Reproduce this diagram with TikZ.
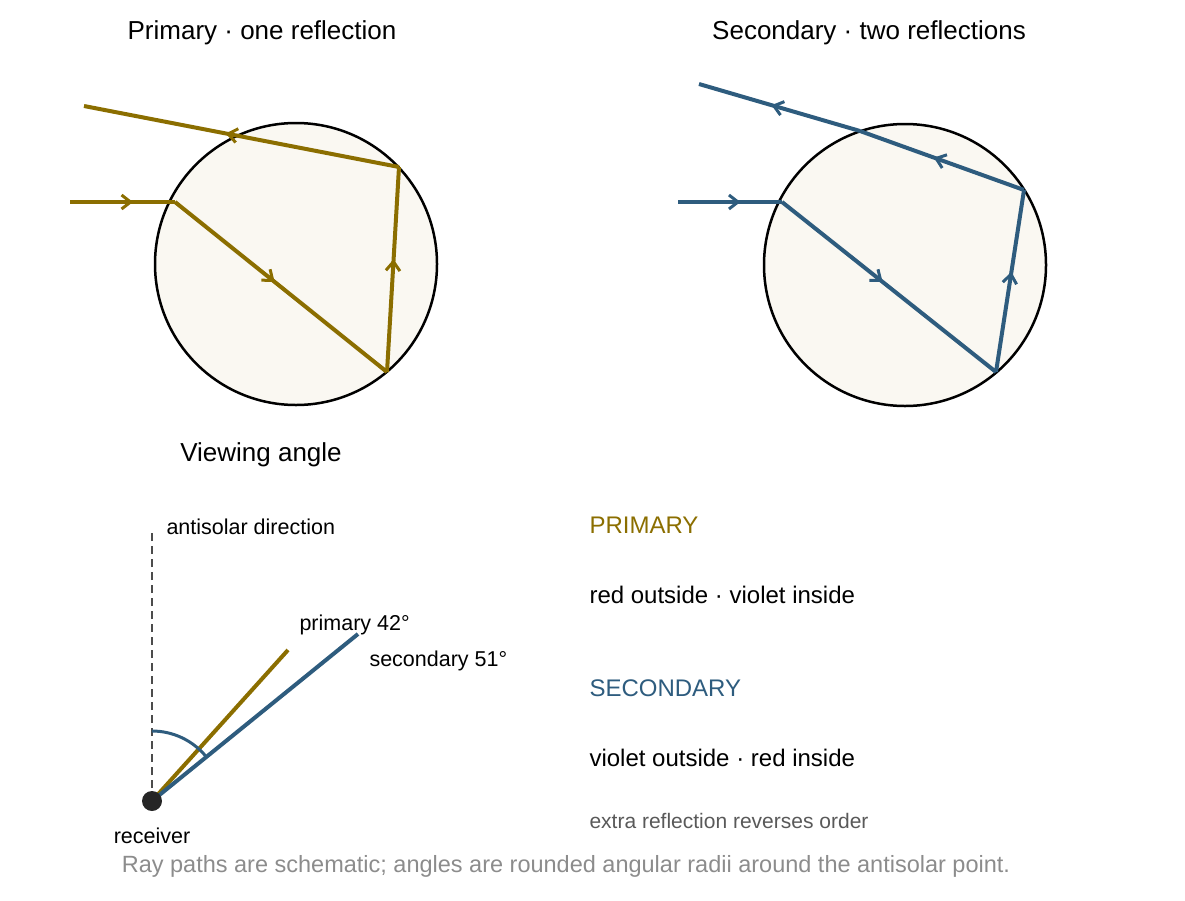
\documentclass[tikz,border=0pt]{standalone}
\usepackage{fontspec}
\setmainfont{Liberation Sans}
\usetikzlibrary{arrows.meta,decorations.markings}
\definecolor{gold}{HTML}{8B6E00}
\definecolor{steel}{HTML}{2E5C7E}
\definecolor{drop}{HTML}{FAF8F2}
\tikzset{
  ray/.style={line width=4pt, line join=round},
  midarrow/.style={postaction={decorate}, decoration={markings,
      mark=at position #1 with {\arrow{Straight Barb[length=9pt,width=14pt,line width=3pt]}}}},
  midarrow/.default=0.55,
  title/.style={font=\fontsize{26}{30}\selectfont},
  label/.style={font=\fontsize{21.5}{25}\selectfont, anchor=west},
  legend/.style={font=\fontsize{24}{28}\selectfont, anchor=west},
}
\begin{document}
\begin{tikzpicture}[x=1pt,y=-1pt]
  \useasboundingbox (0,0) rectangle (1185,900);

  % primary drop
  \node[title] (t1) at (262,33) {Primary · one reflection};
  \draw[line width=2.5pt, fill=drop] (296,264) circle (141);
  \coordinate (p0) at (70,202);
  \coordinate (p1) at (175,202);
  \coordinate (p2) at (387,372);
  \coordinate (p3) at (399,167);
  \coordinate (p4) at (84,106);
  \draw[ray, gold, midarrow=0.6] (p0) -- (p1);
  \draw[ray, gold, midarrow=0.47] (p1) -- (p2);
  \draw[ray, gold, midarrow=0.55] (p2) -- (p3);
  \draw[ray, gold, midarrow=0.55] (p3) -- (p4);

  % secondary drop
  \node[title] (t2) at (869,33) {Secondary · two reflections};
  \draw[line width=2.5pt, fill=drop] (905,265) circle (141);
  \coordinate (s0) at (678,202);
  \coordinate (s1) at (782,202);
  \coordinate (s2) at (996,372);
  \coordinate (s3) at (1024,190);
  \coordinate (s4) at (860,131);
  \coordinate (s5) at (699,84);
  \draw[ray, steel, midarrow=0.6] (s0) -- (s1);
  \draw[ray, steel, midarrow=0.47] (s1) -- (s2);
  \draw[ray, steel, midarrow=0.55] (s2) -- (s3);
  \draw[ray, steel, midarrow=0.55] (s3) -- (s4);
  \draw[ray, steel, midarrow=0.55] (s4) -- (s5);

  % viewing angle
  \node[title] (t3) at (261,455) {Viewing angle};
  \coordinate (eye) at (152,801);
  \coordinate (anti) at (152,530);
  \coordinate (pend) at (288,650);
  \coordinate (send) at (358,634);
  \draw[line width=2.5pt, black!70, dash pattern=on 8pt off 5pt] (eye) -- (anti);
  \draw[ray, gold] (eye) -- (pend);
  \draw[ray, steel] (eye) -- (send);
  \draw[line width=3pt, steel] (152,731) arc[start angle=-90, end angle=-39, radius=70];
  \fill[black!85] (eye) circle (10);
  \node[label] (lanti) at (163,527) {antisolar direction};
  \node[label] (lp) at (296,625) {primary 42°};
  \node[label] (ls) at (366,661) {secondary 51°};
  \node[font=\fontsize{21.5}{25}\selectfont] (lr) at (152,836) {receiver};

  % legend
  \node[legend, gold] (k1) at (586,525) {PRIMARY};
  \node[legend] (k1t) at (586,595) {red outside · violet inside};
  \node[legend, steel] (k2) at (586,688) {SECONDARY};
  \node[legend] (k2t) at (586,758) {violet outside · red inside};
  \node[label, black!65, font=\fontsize{21}{25}\selectfont] (k3) at (586,821) {extra reflection reverses order};

  \node[font=\fontsize{23.5}{27}\selectfont, black!45] (foot) at (566,866)
    {Ray paths are schematic; angles are rounded angular radii around the antisolar point.};
\end{tikzpicture}
\end{document}
